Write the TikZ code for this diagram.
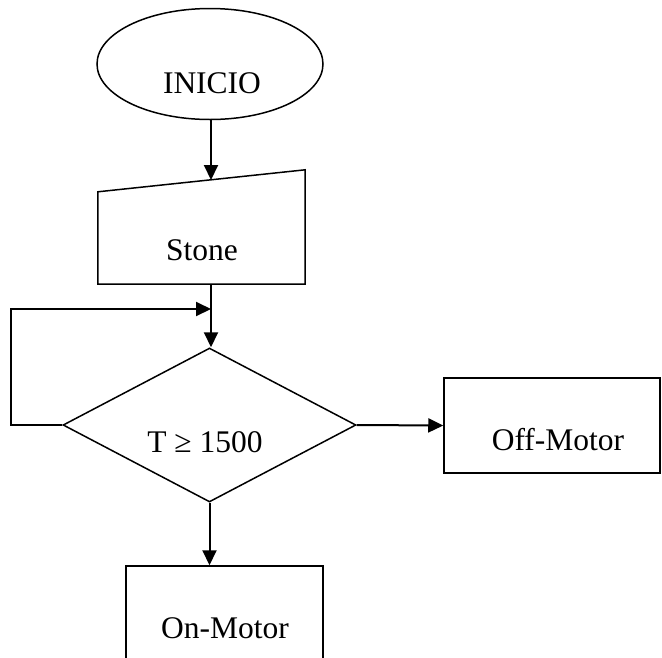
\documentclass[tikz,border=0pt]{standalone}
\usepackage{fontspec}
\setmainfont{Liberation Serif}
\usetikzlibrary{arrows.meta,shapes.geometric}

\begin{document}
\begin{tikzpicture}[x=1pt, y=-1pt,
    outline/.style={draw=black, line width=1.5pt},
    term/.style={ellipse, outline, minimum width=226pt, minimum height=111pt, inner sep=0pt},
    decision/.style={diamond, outline, minimum width=293pt, minimum height=154pt, inner sep=0pt},
    procbox/.style={rectangle, outline, inner sep=0pt},
    inbox/.style={rectangle, inner sep=0pt, minimum width=207pt, minimum height=114pt},
    lbl/.style={font=\fontsize{31.5}{36}\selectfont, inner sep=0pt},
    arr/.style={-{Triangle[length=15pt,width=14pt]}, line width=2pt}]
\useasboundingbox (0,0) rectangle (662,657);
\clip (0,0) rectangle (662,657);
% shapes
\node[term] (inicio) at (210,64) {};
\node[lbl] (inicioTxt) at (212,83) {INICIO};
\node[inbox] (stone) at (201.5,227) {};
\draw[outline] (stone.south west) -- (stone.south east) -- (stone.north east) -- ([yshift=-22pt]stone.north west) -- cycle;
\node[lbl] (stoneTxt) at (202,250) {Stone};
\node[decision] (cond) at (209.5,425) {};
\node[lbl] (condTxt) at (205,442) {T ≥ 1500};
\node[procbox, minimum width=216pt, minimum height=95pt] (off) at (552,425.5) {};
\node[lbl] (offTxt) at (558,440) {Off-Motor};
\node[procbox, minimum width=197pt, minimum height=160pt] (on) at (224.5,646) {};
\node[lbl] (onTxt) at (225,628) {On-Motor};
% connectors
\coordinate (stoneIn) at (211,180);
\coordinate (stoneOut) at (211,284);
\coordinate (loopIn) at (211,309);
\draw[arr] (stoneIn |- inicio.south) -- (stoneIn);
\draw[arr] (stoneOut) -- (stoneOut |- cond.north);
\draw[arr] (cond.west) -- ++(-51,0) |- (loopIn);
\draw[arr] (cond.east) -- (off.west);
\draw[arr] (cond.south) -- (cond.south |- on.north);
\end{tikzpicture}
\end{document}
